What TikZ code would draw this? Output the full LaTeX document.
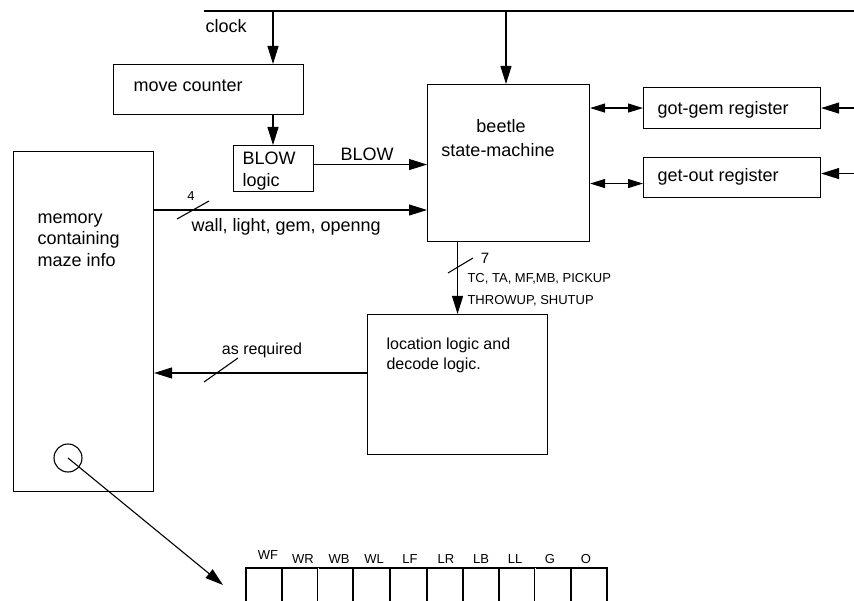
\documentclass[tikz,border=0pt]{standalone}
\usepackage{fontspec}
\setmainfont{Liberation Sans}
\usetikzlibrary{arrows.meta}

\newcommand{\bigtxt}{\fontsize{18}{22}\selectfont}
\newcommand{\midtxt}{\fontsize{16}{19}\selectfont}
\newcommand{\smltxt}{\fontsize{13}{15}\selectfont}

\begin{document}
\begin{tikzpicture}[x=1pt, y=-1pt, line width=1.1pt,
    box/.style={draw, inner sep=0pt, anchor=north west},
    lbl/.style={inner sep=0pt, anchor=base west, font=\bigtxt},
    arr/.style={-{Triangle[length=18pt,width=11pt]}},
    dbl/.style={{Triangle[length=15pt,width=9pt]}-{Triangle[length=15pt,width=9pt]}}]
  \useasboundingbox (0,0) rectangle (854,601);

  % blocks
  \node[box, minimum width=190pt, minimum height=50pt] (mc) at (113,64) {};
  \node[box, minimum width=80pt, minimum height=46pt] (bl) at (233,145) {};
  \node[box, minimum width=162pt, minimum height=157pt] (sm) at (427,84) {};
  \node[box, minimum width=177pt, minimum height=41pt] (gg) at (643,87) {};
  \node[box, minimum width=177pt, minimum height=40pt] (go) at (643,157) {};
  \node[box, minimum width=140pt, minimum height=340pt] (mem) at (13,151) {};
  \node[box, minimum width=180pt, minimum height=140pt] (loc) at (367,314) {};
  \node[draw, circle, inner sep=0pt, minimum size=28pt] (spot) at (68,458) {};

  % block texts
  \node[lbl] (mc-t) at (133,92) {move counter};
  \node[lbl] (bl-t1) at (242,165) {BLOW};
  \node[lbl] (bl-t2) at (242,187) {logic};
  \node[lbl, anchor=base] (sm-t1) at (501,133) {beetle};
  \node[lbl, anchor=base] (sm-t2) at (498,157) {state-machine};
  \node[lbl] (gg-t) at (657,115) {got-gem register};
  \node[lbl] (go-t) at (657,182) {get-out register};
  \node[lbl] (mem-t1) at (37,224) {memory};
  \node[lbl] (mem-t2) at (37,245) {containing};
  \node[lbl] (mem-t3) at (37,267) {maze info};
  \node[lbl, font=\midtxt] (loc-t1) at (386,350) {location logic and};
  \node[lbl, font=\midtxt] (loc-t2) at (386,370) {decode logic.};

  % clock line and its taps
  \coordinate (clkL) at (204,11);
  \coordinate (clkR) at (854,11);
  \coordinate (tapA) at (273,11);
  \coordinate (tapB) at (506,11);
  \draw (clkL) -- (clkR);
  \node[lbl] (clk-t) at (205,33) {clock};
  \draw[arr] (tapA) -- (tapA |- mc.north);
  \draw[arr] (tapA |- mc.south) -- (tapA |- bl.north);
  \draw[arr] (tapB) -- (tapB |- sm.north);

  % BLOW signal
  \draw[arr] ([yshift=4pt]bl.east) -- ([yshift=4pt]bl.east -| sm.west);
  \node[lbl] (blow-t) at (340,161) {BLOW};

  % 4 bit bus from memory
  \coordinate (wallrow) at (0,210);
  \draw[arr] (mem.east |- wallrow) -- (sm.west |- wallrow);
  \draw (177,219) -- (209,201);
  \node[lbl, anchor=base, font=\smltxt] (four) at (191,201) {4};
  \node[lbl] (wall-t) at (191,232) {wall, light, gem, openng};

  % registers
  \draw[dbl] (sm.east |- gg.west) -- (gg.west);
  \draw[dbl] (sm.east |- go.west) ++(0,6) -- ([yshift=-6pt]go.west);
  \draw[arr] (clkR |- gg.east) -- (gg.east);
  \draw[arr] (clkR |- go.east) ++(0,-4) -- ([yshift=4pt]go.east);

  % 7 bit bus down to location logic
  \draw[arr] (sm.south -| loc.north) -- (loc.north);
  \draw (448,273) -- (473,258);
  \node[lbl, anchor=base, font=\fontsize{15}{17}\selectfont] (seven) at (485,264) {7};
  \node[lbl, font=\smltxt] (cmd-t1) at (467,283) {TC, TA, MF,MB, PICKUP};
  \node[lbl, font=\smltxt] (cmd-t2) at (467,305) {THROWUP, SHUTUP};

  % address back to memory
  \coordinate (reqrow) at (0,373);
  \draw[arr] (loc.west |- reqrow) -- (mem.east |- reqrow);
  \draw (204,382) -- (238,358);
  \node[lbl, anchor=base, font=\midtxt] (req-t) at (262,355) {as required};

  % one memory word, cut off by the page
  \coordinate (bitrow) at (223,585);
  \draw[arr] (spot.center) -- (bitrow);
  \draw (246,601) |- (607,568) -- (607,601);
  \foreach \x in {282,353,390,427,463,499,571}
    \draw (\x,568) -- (\x,601);
  \foreach \x in {318,535}
    \draw[double, double distance=0.8pt, line width=0.6pt] (\x,568) -- (\x,601);
  \node[lbl, anchor=base, font=\smltxt] (b-WF) at (268,559) {WF};
  \foreach \t/\x in {WR/303,WB/339,WL/374,LF/410,LR/446,LB/481,LL/515,G/550,O/586}
    \node[lbl, anchor=base, font=\smltxt] (b-\t) at (\x,563) {\t};
\end{tikzpicture}
\end{document}
